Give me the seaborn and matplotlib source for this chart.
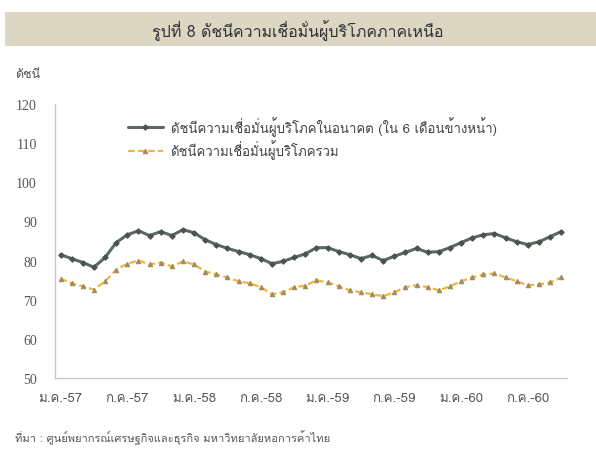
import numpy as np
import pandas as pd
import matplotlib
matplotlib.use('Agg')
import matplotlib.pyplot as plt
import seaborn as sns
from matplotlib import font_manager
from matplotlib.patches import Rectangle

# ดัชนีความเชื่อมั่นผู้บริโภค ภาคเหนือ ม.ค.-57 ถึง ต.ค.-60
future = [81.5, 80.5, 79.5, 78.3, 80.8, 84.6, 86.6, 87.6, 86.4, 87.4,
          86.4, 87.9, 87.1, 85.3, 84.1, 83.1, 82.3, 81.5, 80.5, 79.2,
          79.8, 80.8, 81.7, 83.3, 83.3, 82.3, 81.5, 80.5, 81.3, 80.0,
          81.1, 82.1, 83.1, 82.1, 82.3, 83.3, 84.6, 85.8, 86.6, 86.9,
          85.8, 84.8, 84.1, 84.8, 86.1, 87.4]
overall = [75.4, 74.2, 73.4, 72.6, 74.7, 77.7, 79.2, 80.0, 79.0, 79.5,
           78.5, 79.8, 79.0, 77.2, 76.5, 75.7, 74.7, 74.2, 73.2, 71.4,
           71.9, 73.2, 73.6, 75.0, 74.4, 73.4, 72.4, 71.9, 71.4, 70.9,
           71.9, 73.2, 73.7, 73.2, 72.4, 73.4, 74.7, 75.7, 76.5, 76.7,
           75.7, 74.7, 73.7, 73.9, 74.4, 75.7]
month = np.arange(len(future))
tick_labels = ['ม.ค.-57', 'ก.ค.-57', 'ม.ค.-58', 'ก.ค.-58',
               'ม.ค.-59', 'ก.ค.-59', 'ม.ค.-60', 'ก.ค.-60']
name_future = 'ดัชนีความเชื่อมั่นผู้บริโภคในอนาคต (ใน 6 เดือนข้างหน้า)'
name_overall = 'ดัชนีความเชื่อมั่นผู้บริโภครวม'

df = pd.DataFrame({'month': month, 'future': future, 'overall': overall})

sns.set_style("white")

# find an installed font that has thai glyphs
thai_font = None
for f in font_manager.fontManager.ttflist:
    try:
        if ord('ก') in font_manager.get_font(f.fname).get_charmap():
            thai_font = f.name
            break
    except Exception:
        pass
fams = [thai_font, 'DejaVu Sans'] if thai_font else ['DejaVu Sans']
plt.rcParams['font.family'] = fams

fig = plt.figure(figsize=(5.96, 4.52), dpi=100)
ax = fig.add_axes([0.0923, 0.1615, 0.8587, 0.6062])

sns.lineplot(x='month', y='future', data=df, ax=ax, color='#5c6860', lw=2.2,
             marker='D', markersize=2.8, markerfacecolor='#4a544c',
             markeredgecolor='#4a544c', label=name_future)
sns.lineplot(x='month', y='overall', data=df, ax=ax, color='#f2b440', lw=1.6,
             linestyle=(0, (3, 1.5)), marker='^', markersize=3.2,
             markerfacecolor='#a08c5c', markeredgecolor='#a08c5c',
             label=name_overall)

ax.set_xlim(-0.5, len(month) - 0.5)
ax.set_ylim(50, 120)
ax.set_yticks(range(50, 121, 10))
ax.set_yticklabels([str(v) for v in range(50, 121, 10)], fontsize=10, color='#555555')
for t in ax.get_yticklabels():
    t.set_fontfamily('Liberation Serif')
ax.set_xticks(np.arange(0, len(month), 6))
ax.set_xticklabels(tick_labels, fontsize=9.5, color='#555555')
ax.set_xticks(np.arange(-0.5, len(month), 3), minor=True)
ax.tick_params(axis='x', which='major', length=0, pad=10)
ax.tick_params(axis='x', which='minor', length=5, color='#c8c8c8', direction='out')
ax.tick_params(axis='y', length=5, color='#c8c8c8', direction='out', pad=8)
ax.set_xlabel('')
ax.set_ylabel('')
sns.despine(ax=ax)
for s in ['left', 'bottom']:
    ax.spines[s].set_color('#c8c8c8')
    ax.spines[s].set_linewidth(1)

leg = ax.legend(loc='upper left', bbox_to_anchor=(0.12, 1.0), frameon=False,
                fontsize=9.5, handlelength=2.6, labelspacing=0.3,
                handletextpad=0.6)
for t in leg.get_texts():
    t.set_color('#444444')

# title band
fig.patches.append(Rectangle((0.008, 0.896), 0.992, 0.075, transform=fig.transFigure,
                             facecolor='#dcd7c3', edgecolor='none', zorder=0))
fig.text(0.5, 0.933, 'รูปที่ 8 ดัชนีความเชื่อมั่นผู้บริโภคภาคเหนือ', ha='center',
         va='center', fontsize=11.5, color='#333333')
fig.text(0.025, 0.835, 'ดัชนี', ha='left', va='center', fontsize=9, color='#555555')
fig.text(0.025, 0.032, 'ที่มา : ศูนย์พยากรณ์เศรษฐกิจและธุรกิจ มหาวิทยาลัยหอการค้าไทย',
         ha='left', va='center', fontsize=8, color='#555555')

fig.savefig('out.png', dpi=100)
